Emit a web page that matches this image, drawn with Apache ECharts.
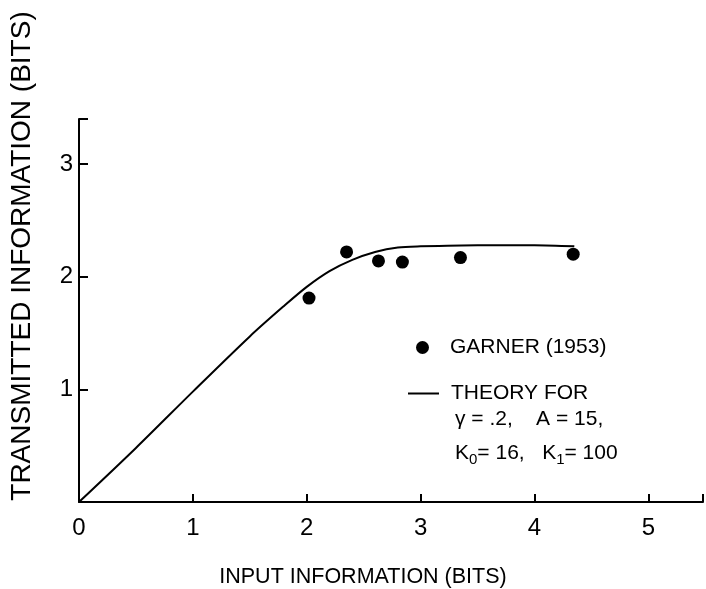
<!DOCTYPE html>
<html>
<head>
<meta charset="utf-8">
<script src="https://cdn.jsdelivr.net/npm/echarts@6/dist/echarts.min.js"></script>
<style>
html,body{margin:0;padding:0;background:#fff;}
#chart{width:706px;height:589px;}
</style>
</head>
<body>
<div id="chart"></div>
<script>
// Data
var xTicks = [0, 1, 2, 3, 4, 5];
var yTicks = [0, 1, 2, 3];
var garnerX = [2.02, 2.35, 2.63, 2.84, 3.35, 4.34];
var garnerY = [1.81, 2.22, 2.14, 2.13, 2.17, 2.20];
var theoryX = [0, 0.5, 1.0, 1.5, 1.8, 2.0, 2.2, 2.4, 2.6, 2.8, 3.0, 3.5, 4.0, 4.35];
var theoryY = [0, 0.48, 0.98, 1.47, 1.74, 1.91, 2.05, 2.15, 2.22, 2.26, 2.27, 2.28, 2.28, 2.27];
var garnerName = 'GARNER (1953)';
var theoryName = 'THEORY FOR';
var xTitle = 'INPUT INFORMATION (BITS)';
var yTitle = 'TRANSMITTED INFORMATION (BITS)';

function pairs(xs, ys) { return xs.map(function (x, i) { return [x, ys[i]]; }); }

var chart = echarts.init(document.getElementById('chart'));
var axisFont = 'Liberation Sans';
chart.setOption({
  animation: false,
  backgroundColor: '#fff',
  grid: { left: 79, right: 0, top: 119, bottom: 87, containLabel: false },
  xAxis: {
    type: 'value', min: 0, max: 5.48, interval: 1,
    splitLine: { show: false },
    axisLine: { lineStyle: { color: '#000', width: 2 } },
    axisTick: { inside: true, length: 8, lineStyle: { color: '#000', width: 2 } },
    axisLabel: {
      color: '#000', fontSize: 24, fontFamily: axisFont, margin: 14,
      formatter: function (v) { return xTicks.indexOf(v) >= 0 ? String(v) : ''; }
    }
  },
  yAxis: {
    type: 'value', min: 0, max: 3.4, interval: 1,
    splitLine: { show: false },
    axisLine: { lineStyle: { color: '#000', width: 2 } },
    axisTick: { inside: true, length: 9, lineStyle: { color: '#000', width: 2 } },
    axisLabel: {
      color: '#000', fontSize: 24, fontFamily: axisFont, margin: 6,
      formatter: function (v) { return (yTicks.indexOf(v) >= 0 && v !== 0) ? String(v) : ''; }
    }
  },
  legend: [
    {
      data: [{ name: garnerName, icon: 'circle' }],
      left: 411, top: 332, itemWidth: 31, itemHeight: 13,
      textStyle: { color: '#000', fontSize: 21, fontFamily: axisFont, padding: [0, 0, 0, 7] }
    },
    {
      data: [{ name: theoryName, icon: 'rect' }],
      left: 403, top: 378, itemWidth: 31, itemHeight: 2,
      textStyle: { color: '#000', fontSize: 21, fontFamily: axisFont, padding: [0, 0, 0, 7] }
    }
  ],
  graphic: [
    {
      type: 'text', x: 22, y: 256, rotation: Math.PI / 2,
      style: { text: yTitle, fill: '#000', font: '28px "Liberation Sans"', textAlign: 'center', textVerticalAlign: 'middle' }
    },
    {
      type: 'text', x: 363, y: 577,
      style: { text: xTitle, fill: '#000', font: '21.5px "Liberation Sans"', textAlign: 'center', textVerticalAlign: 'middle' }
    },
    {
      type: 'text', x: 455, y: 419,
      style: { text: 'γ = .2,    A = 15,', fill: '#000', font: '21px "Liberation Sans"', textAlign: 'left', textVerticalAlign: 'middle' }
    },
    {
      type: 'text', x: 455, y: 453,
      style: {
        text: '{t|K}{s|0}{t|= 16,   K}{s|1}{t|= 100}',
        textAlign: 'left', textVerticalAlign: 'middle',
        rich: {
          t: { fontSize: 21, fontFamily: 'Liberation Sans', fill: '#000', color: '#000' },
          s: { fontSize: 15, fontFamily: 'Liberation Sans', fill: '#000', color: '#000', padding: [14, 0, 0, 0] }
        }
      }
    }
  ],
  series: [
    {
      name: garnerName, type: 'scatter', data: pairs(garnerX, garnerY),
      symbol: 'circle', symbolSize: 13, itemStyle: { color: '#000', opacity: 1 }
    },
    {
      name: theoryName, type: 'line', data: pairs(theoryX, theoryY),
      symbol: 'none', smooth: 0.3, lineStyle: { color: '#000', width: 2 }, itemStyle: { color: '#000' }
    }
  ]
});
</script>
</body>
</html>
